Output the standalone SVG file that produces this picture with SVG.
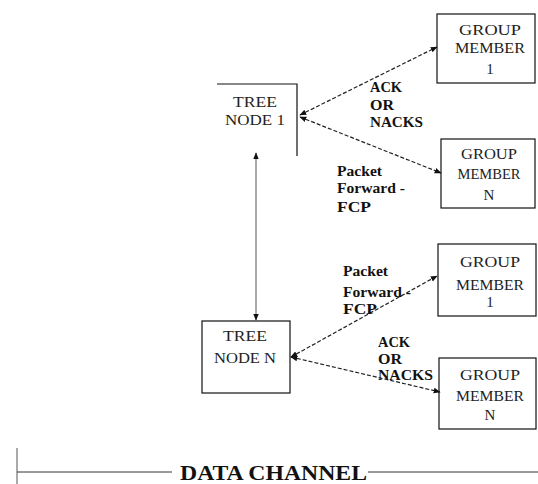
<svg xmlns="http://www.w3.org/2000/svg" width="538" height="484" viewBox="0 0 538 484">
<style>
.box{fill:#fff;stroke:#111;stroke-width:1.2}
.t{font-family:"Liberation Serif","Times New Roman",serif;font-size:15px;fill:#222;text-anchor:middle}
.b{font-family:"Liberation Serif","Times New Roman",serif;font-size:14px;font-weight:bold;fill:#111}
.dash{stroke:#222;stroke-width:1.2;stroke-dasharray:4 2;fill:none}
.solid{stroke:#555;stroke-width:1;fill:none}
</style>
<defs>
<marker id="ah" viewBox="0 0 10 10" refX="9" refY="5" markerWidth="7" markerHeight="7" orient="auto-start-reverse" markerUnits="userSpaceOnUse">
<path d="M0,1 L10,5 L0,9 z" fill="#111"/>
</marker>
</defs>
<rect width="538" height="484" fill="#fff"/>
<g id="tree1">
<path d="M217,84 H297 V156" class="box" fill="none"/>
<text class="t" x="255" y="107" textLength="44" lengthAdjust="spacingAndGlyphs">TREE</text>
<text class="t" x="255" y="125" textLength="60" lengthAdjust="spacingAndGlyphs">NODE 1</text>
</g>
<g id="gm1top">
<rect class="box" x="437" y="14" width="98" height="69"/>
<text class="t" x="490" y="35" textLength="62" lengthAdjust="spacingAndGlyphs">GROUP</text>
<text class="t" x="490" y="53" textLength="70" lengthAdjust="spacingAndGlyphs">MEMBER</text>
<text class="t" x="490" y="74">1</text>
</g>
<g id="gmNtop">
<rect class="box" x="441" y="139" width="94" height="69"/>
<text class="t" x="489" y="159" textLength="56" lengthAdjust="spacingAndGlyphs">GROUP</text>
<text class="t" x="489" y="179" textLength="63" lengthAdjust="spacingAndGlyphs">MEMBER</text>
<text class="t" x="489" y="200">N</text>
</g>
<g id="treeN">
<rect class="box" x="202" y="321" width="88" height="72"/>
<text class="t" x="245" y="341" textLength="44" lengthAdjust="spacingAndGlyphs">TREE</text>
<text class="t" x="245" y="363" textLength="62" lengthAdjust="spacingAndGlyphs">NODE N</text>
</g>
<g id="gm1bot">
<rect class="box" x="438" y="244" width="98" height="72"/>
<text class="t" x="490" y="267" textLength="60" lengthAdjust="spacingAndGlyphs">GROUP</text>
<text class="t" x="490" y="290" textLength="68" lengthAdjust="spacingAndGlyphs">MEMBER</text>
<text class="t" x="490" y="307">1</text>
</g>
<g id="gmNbot">
<rect class="box" x="439" y="358" width="97" height="71"/>
<text class="t" x="490" y="380" textLength="60" lengthAdjust="spacingAndGlyphs">GROUP</text>
<text class="t" x="490" y="401" textLength="68" lengthAdjust="spacingAndGlyphs">MEMBER</text>
<text class="t" x="490" y="420">N</text>
</g>
<g id="connectors">
<line class="dash" x1="300" y1="115" x2="437" y2="47" marker-start="url(#ah)" marker-end="url(#ah)"/>
<line class="dash" x1="300" y1="117" x2="441" y2="173" marker-start="url(#ah)" marker-end="url(#ah)"/>
<line class="solid" x1="256" y1="153" x2="256" y2="320" marker-start="url(#ah)" marker-end="url(#ah)"/>
<line class="dash" x1="291" y1="357" x2="437" y2="276" marker-start="url(#ah)" marker-end="url(#ah)"/>
<line class="dash" x1="291" y1="357" x2="440" y2="392" marker-start="url(#ah)" marker-end="url(#ah)"/>
</g>
<g id="labels">
<text class="b" x="370" y="92" textLength="32" lengthAdjust="spacingAndGlyphs">ACK</text>
<text class="b" x="370" y="110" textLength="24" lengthAdjust="spacingAndGlyphs">OR</text>
<text class="b" x="370" y="127" textLength="53" lengthAdjust="spacingAndGlyphs">NACKS</text>
<text class="b" x="337" y="176" textLength="45" lengthAdjust="spacingAndGlyphs">Packet</text>
<text class="b" x="337" y="193" textLength="68" lengthAdjust="spacingAndGlyphs">Forward -</text>
<text class="b" x="337" y="212" textLength="34" lengthAdjust="spacingAndGlyphs">FCP</text>
<text class="b" x="343" y="276" textLength="45" lengthAdjust="spacingAndGlyphs">Packet</text>
<text class="b" x="343" y="297" textLength="68" lengthAdjust="spacingAndGlyphs">Forward -</text>
<text class="b" x="343" y="314" textLength="34" lengthAdjust="spacingAndGlyphs">FCP</text>
<text class="b" x="378" y="347" textLength="32" lengthAdjust="spacingAndGlyphs">ACK</text>
<text class="b" x="378" y="364" textLength="24" lengthAdjust="spacingAndGlyphs">OR</text>
<text class="b" x="378" y="380" textLength="55" lengthAdjust="spacingAndGlyphs">NACKS</text>
</g>
<g id="datachannel">
<line x1="17" y1="448" x2="17" y2="484" stroke="#555" stroke-width="1"/>
<line x1="17" y1="472" x2="172" y2="472" stroke="#333" stroke-width="1"/>
<line x1="368" y1="472" x2="538" y2="472" stroke="#333" stroke-width="1"/>
<text x="180" y="480" font-family="'Liberation Serif','Times New Roman',serif" font-size="20" font-weight="bold" fill="#111" textLength="187" lengthAdjust="spacingAndGlyphs">DATA CHANNEL</text>
</g>
</svg>
